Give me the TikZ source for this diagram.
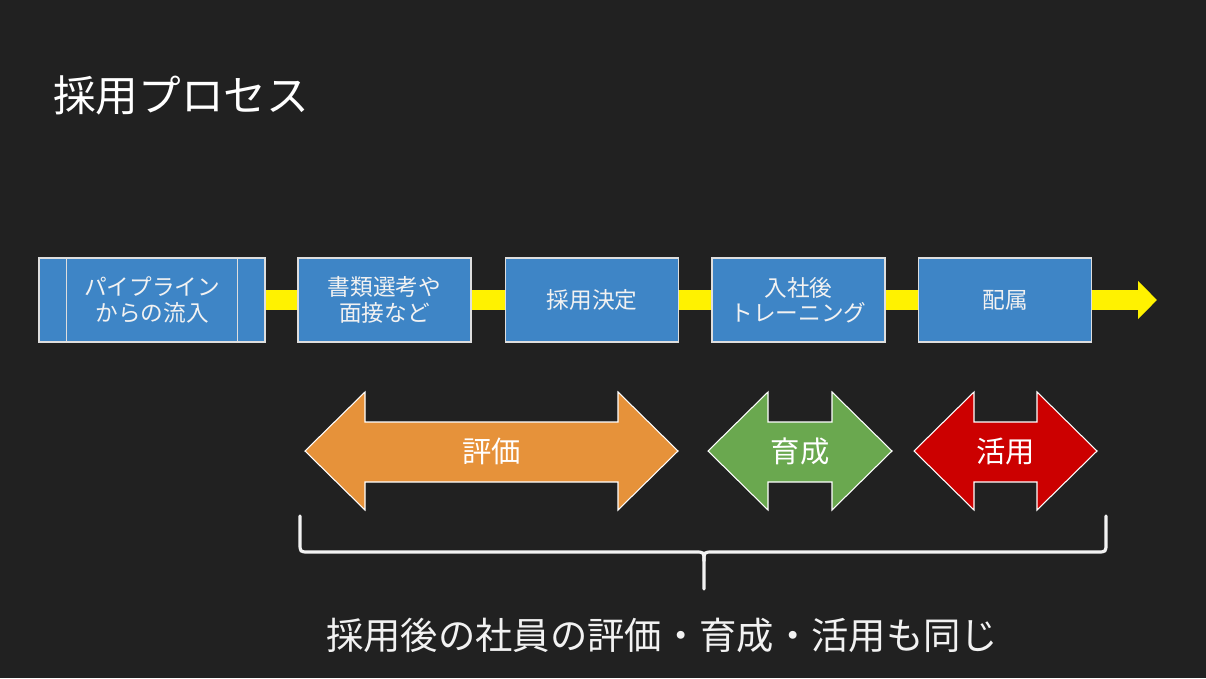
\documentclass[tikz,border=0pt]{standalone}
\usepackage{fontspec}
\setmainfont{Noto Sans CJK JP}
\usetikzlibrary{arrows.meta,backgrounds}
\definecolor{bgcol}{RGB}{33,33,33}
\definecolor{boxcol}{RGB}{62,133,198}
\definecolor{edgecol}{RGB}{222,222,222}
\definecolor{textcol}{RGB}{242,242,242}
\definecolor{evalcol}{RGB}{230,146,58}
\definecolor{growcol}{RGB}{106,168,79}
\definecolor{usecol}{RGB}{204,0,0}
\begin{document}
\begin{tikzpicture}[x=0.75pt,y=-0.75pt,
    procbox/.style={draw=edgecol,line width=1.1pt,fill=boxcol,text=textcol,
        minimum width=129.75pt,minimum height=63pt,inner sep=0pt,align=center,
        font=\fontsize{17}{19}\selectfont},
    flow/.style={draw=yellow,line width=15pt,-{Triangle[length=14.25pt,width=27.75pt]}},
    bigarrow/.style={draw=white,line width=0.8pt,line join=miter},
    arrlabel/.style={text=white,inner sep=0pt,font=\fontsize{22}{24}\selectfont},
    brace/.style={draw=textcol,line width=2.4pt,line cap=round,line join=round}]
    \useasboundingbox (0,0) rectangle (1206,678);
    %% title
    \node[anchor=west,inner sep=0pt,text=white,font=\fontsize{32}{36}\selectfont] (title) at (53,95) {採用プロセス};
    %% process boxes
    \node[procbox,minimum width=169.5pt] (p1) at (152,300) {パイプライン\\からの流入};
    \draw[edgecol,line width=1.1pt] ([xshift=21pt]p1.north west) -- ([xshift=21pt]p1.south west);
    \draw[edgecol,line width=1.1pt] ([xshift=-21pt]p1.north east) -- ([xshift=-21pt]p1.south east);
    \foreach \x/\nm/\txt in {384.5/p2/{書類選考や\\面接など}, 592/p3/{採用決定},
                             798.5/p4/{入社後\\トレーニング}, 1005/p5/{配属}}
        \node[procbox] (\nm) at (\x,300) {\txt};
    \coordinate (flowend) at (1157,300);
    \begin{scope}[on background layer]
        \fill[bgcol] (0,0) rectangle (1206,678);
        \draw[flow] (p1.east) -- (flowend);
    \end{scope}
    %% double arrows
    \foreach \a/\b/\c/\nm/\lab in {305/678/evalcol/eval/評価, 708/892/growcol/grow/育成,
                                   914/1097/usecol/use/活用} {
        \filldraw[bigarrow,fill=\c] (\a,451) -- ({\a+60},392) -- ({\a+60},422) -- ({\b-60},422)
            -- ({\b-60},392) -- (\b,451) -- ({\b-60},510) -- ({\b-60},482) -- ({\a+60},482)
            -- ({\a+60},510) -- cycle;
        \node[arrlabel] (\nm) at ({(\a+\b)/2},451) {\lab};
    }
    %% brace
    \draw[brace] (300,516) -- (300,543) .. controls (300,552) .. (309,552) -- (695,552)
        .. controls (704,552) .. (704,561) -- (704,589);
    \draw[brace] (704,561) .. controls (704,552) .. (713,552) -- (1097,552)
        .. controls (1106,552) .. (1106,543) -- (1106,516);
    \node[text=textcol,inner sep=0pt,font=\fontsize{28}{32}\selectfont] (note) at (662,635) {採用後の社員の評価・育成・活用も同じ};
\end{tikzpicture}
\end{document}
